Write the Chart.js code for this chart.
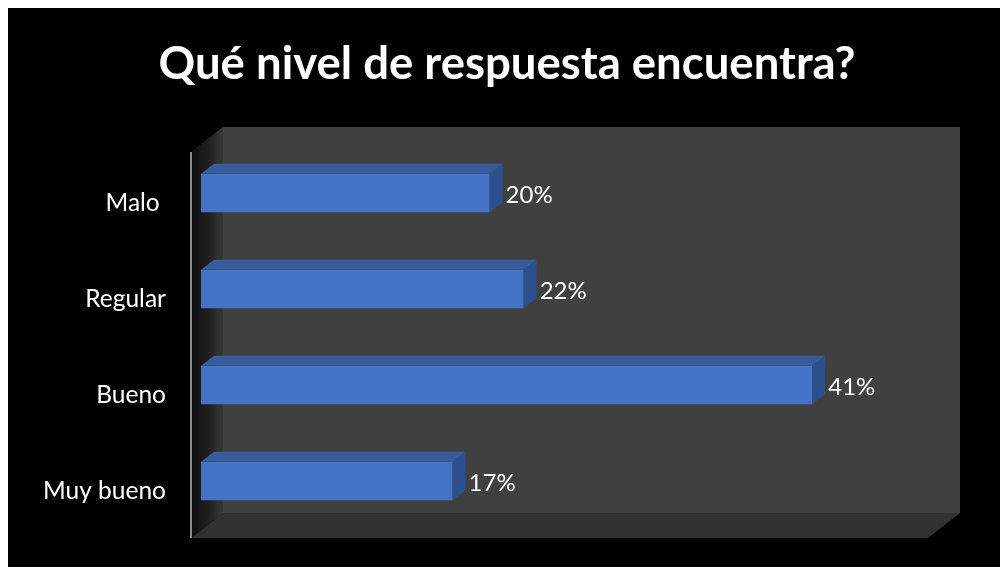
<!DOCTYPE html>
<html>
<head>
<meta charset="utf-8">
<script src="https://cdn.jsdelivr.net/npm/chart.js@4.4.1/dist/chart.umd.min.js"></script>
<style>
    html, body { margin: 0; padding: 0; background: #ffffff; }
    #wrap { width: 1000px; height: 567px; }
</style>
</head>
<body>
<div id="wrap"><canvas id="respuestaChart" width="1000" height="567"></canvas></div>
<script>
// chart data
const chartTitle = "Qué nivel de respuesta encuentra?";
const categories = ["Malo ", "Regular", "Bueno", "Muy bueno"];
const shares = [0.195, 0.218, 0.413, 0.170];
const axisMax = 0.5;

const barFront = "#4472c4";
const barTop = "#375c9c";
const barSide = "#2d4f8e";

// walls + floor of the 3D box, drawn behind the bars
const boxPlugin = {
    id: "box3d",
    beforeDraw(chart) {
        const c = chart.ctx;
        const ca = chart.chartArea;
        c.save();
        c.fillStyle = "#ffffff";
        c.fillRect(0, 0, chart.width, chart.height);
        c.fillStyle = "#000000";
        c.fillRect(8, 8, chart.width - 8, chart.height - 8);

        // front plane and depth offset
        const fl = ca.left - 10, fr = ca.right - 13, ft = ca.top + 7, fb = ca.bottom + 9;
        const dx = 32, dy = 25;

        // back wall
        c.fillStyle = "#404040";
        c.fillRect(fl + dx, ft - dy, fr - fl, fb - ft);

        // floor
        c.fillStyle = "#313131";
        c.beginPath();
        c.moveTo(fl, fb);
        c.lineTo(fr, fb);
        c.lineTo(fr + dx, fb - dy);
        c.lineTo(fl + dx, fb - dy);
        c.closePath();
        c.fill();

        // side wall
        const g = c.createLinearGradient(fl, 0, fl + dx, 0);
        g.addColorStop(0, "#0c0c0c");
        g.addColorStop(0.6, "#222222");
        g.addColorStop(1, "#383838");
        c.fillStyle = g;
        c.beginPath();
        c.moveTo(fl, ft);
        c.lineTo(fl + dx, ft - dy);
        c.lineTo(fl + dx, fb - dy);
        c.lineTo(fl, fb);
        c.closePath();
        c.fill();

        // axis line
        c.strokeStyle = "#8c8c8c";
        c.lineWidth = 2;
        c.beginPath();
        c.moveTo(fl, ft);
        c.lineTo(fl, fb);
        c.stroke();

        // title
        c.fillStyle = "#ffffff";
        c.font = "bold 45.5px Lato";
        c.textAlign = "center";
        c.textBaseline = "middle";
        c.fillText(chartTitle, 507, 64);
        c.restore();
    },
    afterDatasetsDraw(chart) {
        const c = chart.ctx;
        const meta = chart.getDatasetMeta(0);
        const dx = 13, dy = 10;
        c.save();
        meta.data.forEach((bar, i) => {
            const x0 = bar.base, x1 = bar.x;
            const y0 = bar.y - bar.height / 2, y1 = bar.y + bar.height / 2;

            c.fillStyle = barTop;
            c.beginPath();
            c.moveTo(x0, y0);
            c.lineTo(x1, y0);
            c.lineTo(x1 + dx, y0 - dy);
            c.lineTo(x0 + dx, y0 - dy);
            c.closePath();
            c.fill();

            c.fillStyle = barSide;
            c.beginPath();
            c.moveTo(x1, y0);
            c.lineTo(x1 + dx, y0 - dy);
            c.lineTo(x1 + dx, y1 - dy);
            c.lineTo(x1, y1);
            c.closePath();
            c.fill();

            // value label
            c.fillStyle = "#ffffff";
            c.font = "24px Lato";
            c.textAlign = "left";
            c.textBaseline = "middle";
            c.fillText(Math.round(shares[i] * 100) + "%", x1 + 16, bar.y + 2);
        });
        c.restore();
    }
};

function drawChart() {
    new Chart(document.getElementById("respuestaChart"), {
        type: "bar",
        data: {
            labels: categories,
            datasets: [{
                data: shares,
                backgroundColor: barFront,
                borderWidth: 0,
                barPercentage: 0.4,
                categoryPercentage: 1.0
            }]
        },
        options: {
            indexAxis: "y",
            responsive: false,
            animation: false,
            layout: {
                padding: { left: 8, top: 145, right: 59, bottom: 38 }
            },
            plugins: {
                legend: { display: false },
                tooltip: { enabled: false }
            },
            scales: {
                x: {
                    display: false,
                    min: 0,
                    max: axisMax
                },
                y: {
                    grid: { display: false, drawTicks: false },
                    border: { display: false },
                    ticks: {
                        color: "#ffffff",
                        padding: 35,
                        labelOffset: 10,
                        font: { family: "Lato", size: 24.5 }
                    },
                    afterFit(scale) {
                        // tick padding would otherwise also pad the plot vertically
                        scale.width = 193;
                        scale.paddingTop = 0;
                        scale.paddingBottom = 0;
                    }
                }
            }
        },
        plugins: [boxPlugin]
    });
}

Promise.all([
    document.fonts.load("24px Lato"),
    document.fonts.load("bold 45px Lato")
]).then(drawChart, drawChart);
</script>
</body>
</html>
